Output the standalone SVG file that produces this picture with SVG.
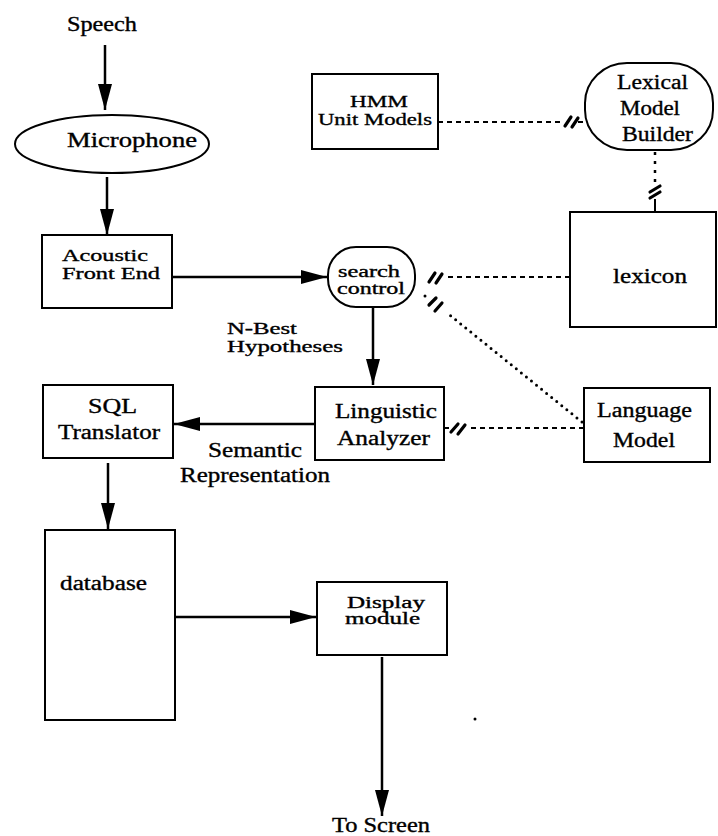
<svg xmlns="http://www.w3.org/2000/svg" width="718" height="836" viewBox="0 0 718 836">
  <defs>
    <marker id="arrow" markerUnits="userSpaceOnUse" markerWidth="26" markerHeight="14" refX="26" refY="7" orient="auto">
      <path d="M0,0 L26,7 L0,14 z" fill="#000"/>
    </marker>
    <style>
      .box { fill: #fff; stroke: #000; stroke-width: 2; }
      .lbl { font-family: "Liberation Serif", "Times New Roman", serif; font-size: 20px; fill: #000; stroke: #000; stroke-width: 0.35; }
      .tight { font-size: 17px; }
      .sm { font-size: 16px; }
      .flow { stroke: #000; stroke-width: 2.5; fill: none; }
      .dash { stroke: #000; stroke-width: 2; fill: none; stroke-dasharray: 5 4; }
      .dot { stroke: #000; stroke-width: 3; fill: none; stroke-dasharray: 0 6.5; stroke-linecap: round; }
      .vdot { stroke: #000; stroke-width: 2.5; fill: none; stroke-dasharray: 3 6; }
      .tick { stroke: #000; stroke-width: 3.2; fill: none; stroke-linecap: round; }
    </style>
  </defs>
  <rect width="718" height="836" fill="#fff"/>

  <!-- connectors -->
  <g id="connectors">
    <line class="flow" x1="105" y1="45" x2="105" y2="110" marker-end="url(#arrow)"/>
    <line class="flow" x1="107" y1="177" x2="107" y2="235" marker-end="url(#arrow)"/>
    <line class="flow" x1="172" y1="277" x2="327" y2="277" marker-end="url(#arrow)"/>
    <line class="flow" x1="373" y1="308" x2="373" y2="385" marker-end="url(#arrow)"/>
    <line class="flow" x1="315" y1="424" x2="174" y2="424" marker-end="url(#arrow)"/>
    <line class="flow" x1="108" y1="463" x2="108" y2="529" marker-end="url(#arrow)"/>
    <line class="flow" x1="175" y1="617" x2="316" y2="617" marker-end="url(#arrow)"/>
    <line class="flow" x1="382" y1="657" x2="382" y2="816" marker-end="url(#arrow)"/>

    <!-- HMM unit models to lexical model builder -->
    <line class="dash" x1="438" y1="122" x2="562" y2="122"/>
    <path class="tick" d="M565,126 L571,117 M572,127 L578,118"/>
    <line class="dash" x1="578" y1="122" x2="585" y2="122"/>

    <!-- lexical model builder to lexicon -->
    <line class="vdot" x1="655" y1="152" x2="655" y2="185"/>
    <path class="tick" d="M650,192 L660,186 M650,198 L660,192"/>
    <line class="flow" x1="655" y1="199" x2="655" y2="212" style="stroke-width:2"/>

    <!-- lexicon to search control -->
    <line class="dash" x1="570" y1="277" x2="445" y2="277"/>
    <path class="tick" d="M429,282 L435,273 M436,283 L442,274"/>

    <!-- language model to search control -->
    <line class="dot" x1="582" y1="422" x2="446" y2="312"/>
    <path class="tick" d="M429,305 L436,298 M435,311 L442,303"/>
    <circle cx="425" cy="296" r="1.5" fill="#000"/>

    <!-- language model to linguistic analyzer -->
    <line class="dash" x1="584" y1="428" x2="468" y2="428"/>
    <path class="tick" d="M451,432 L458,424 M458,434 L465,425"/>
    <line class="dash" x1="449" y1="428" x2="444" y2="428"/>
  </g>

  <!-- nodes -->
  <g id="speech">
    <text class="lbl" x="67" y="31" textLength="70" lengthAdjust="spacingAndGlyphs">Speech</text>
  </g>

  <g id="microphone">
    <ellipse class="box" cx="112" cy="144" rx="97" ry="29"/>
    <text class="lbl" x="67" y="147" textLength="130" lengthAdjust="spacingAndGlyphs">Microphone</text>
  </g>

  <g id="acoustic-front-end">
    <rect class="box" x="42" y="235" width="130" height="73"/>
    <text class="lbl tight" x="62" y="261" textLength="86" lengthAdjust="spacingAndGlyphs">Acoustic</text>
    <text class="lbl tight" x="62" y="279" textLength="98" lengthAdjust="spacingAndGlyphs">Front End</text>
  </g>

  <g id="hmm-unit-models">
    <rect class="box" x="312" y="74" width="126" height="75"/>
    <text class="lbl tight" x="350" y="107" textLength="58" lengthAdjust="spacingAndGlyphs">HMM</text>
    <text class="lbl tight" x="318" y="125" textLength="114" lengthAdjust="spacingAndGlyphs">Unit Models</text>
  </g>

  <g id="lexical-model-builder">
    <rect class="box" x="585" y="63" width="128" height="87" rx="42" ry="40"/>
    <text class="lbl" x="617" y="89" textLength="71" lengthAdjust="spacingAndGlyphs">Lexical</text>
    <text class="lbl" x="620" y="115" textLength="60" lengthAdjust="spacingAndGlyphs">Model</text>
    <text class="lbl" x="622" y="141" textLength="71" lengthAdjust="spacingAndGlyphs">Builder</text>
  </g>

  <g id="lexicon">
    <rect class="box" x="570" y="212" width="146" height="115"/>
    <text class="lbl" x="613" y="283" textLength="74" lengthAdjust="spacingAndGlyphs">lexicon</text>
  </g>

  <g id="search-control">
    <rect class="box" x="328" y="247" width="87" height="60" rx="28" ry="28"/>
    <text class="lbl sm" x="338" y="277" textLength="62" lengthAdjust="spacingAndGlyphs">search</text>
    <text class="lbl sm" x="337" y="294" textLength="68" lengthAdjust="spacingAndGlyphs">control</text>
  </g>

  <g id="n-best-label">
    <text class="lbl tight" x="227" y="334" textLength="70" lengthAdjust="spacingAndGlyphs">N-Best</text>
    <text class="lbl tight" x="227" y="352" textLength="116" lengthAdjust="spacingAndGlyphs">Hypotheses</text>
  </g>

  <g id="sql-translator">
    <rect class="box" x="43" y="385" width="130" height="73"/>
    <text class="lbl" x="88" y="413" textLength="49" lengthAdjust="spacingAndGlyphs">SQL</text>
    <text class="lbl" x="58" y="439" textLength="102" lengthAdjust="spacingAndGlyphs">Translator</text>
  </g>

  <g id="linguistic-analyzer">
    <rect class="box" x="315" y="387" width="129" height="73"/>
    <text class="lbl" x="335" y="418" textLength="102" lengthAdjust="spacingAndGlyphs">Linguistic</text>
    <text class="lbl" x="337" y="445" textLength="93" lengthAdjust="spacingAndGlyphs">Analyzer</text>
  </g>

  <g id="semantic-label">
    <text class="lbl" x="208" y="457" textLength="94" lengthAdjust="spacingAndGlyphs">Semantic</text>
    <text class="lbl" x="180" y="482" textLength="150" lengthAdjust="spacingAndGlyphs">Representation</text>
  </g>

  <g id="language-model">
    <rect class="box" x="584" y="388" width="126" height="74"/>
    <text class="lbl" x="597" y="417" textLength="95" lengthAdjust="spacingAndGlyphs">Language</text>
    <text class="lbl" x="613" y="447" textLength="62" lengthAdjust="spacingAndGlyphs">Model</text>
  </g>

  <g id="database">
    <rect class="box" x="45" y="530" width="130" height="190"/>
    <text class="lbl" x="60" y="590" textLength="87" lengthAdjust="spacingAndGlyphs">database</text>
  </g>

  <g id="display-module">
    <rect class="box" x="317" y="582" width="130" height="73"/>
    <text class="lbl sm" x="347" y="608" textLength="78" lengthAdjust="spacingAndGlyphs">Display</text>
    <text class="lbl sm" x="345" y="624" textLength="75" lengthAdjust="spacingAndGlyphs">module</text>
  </g>

  <g id="to-screen">
    <text class="lbl" x="332" y="832" textLength="98" lengthAdjust="spacingAndGlyphs">To Screen</text>
  </g>

  <circle cx="475" cy="719" r="1.5" fill="#000"/>
</svg>
